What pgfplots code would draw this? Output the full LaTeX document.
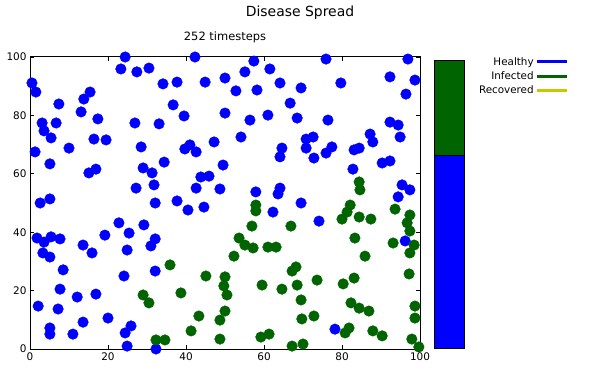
\documentclass[border=0pt]{standalone}
\usepackage{pgfplots}
\pgfplotsset{compat=1.18}
\usepackage{fontspec}
\setmainfont{DejaVu Sans}
\definecolor{hblue}{RGB}{0,0,255}
\definecolor{igreen}{RGB}{0,100,0}
\definecolor{ryellow}{RGB}{200,200,0}
\begin{document}
\begin{tikzpicture}[x=1bp,y=1bp]
\path[use as bounding box] (0,0) rectangle (600,375);
\node[font=\fontsize{14}{16}\selectfont] at (300,362) {Disease Spread};
\node[font=\fontsize{11.5}{13}\selectfont] at (225,338) {252 timesteps};
\begin{axis}[
  at={(30bp,26bp)}, anchor=south west,
  width=390bp, height=292bp, scale only axis,
  xmin=0, xmax=100, ymin=0, ymax=100,
  xtick={0,20,40,60,80,100}, ytick={0,20,40,60,80,100},
  tick align=inside, major tick length=4bp,
  tick style={black, line width=0.8bp},
  axis line style={black, line width=1bp},
  clip=false,
  /pgf/number format/assume math mode=true,
  tick label style={font=\fontsize{10.5}{12}\selectfont},
  legend style={draw=none, fill=none, at={(1.388,1.012)}, anchor=north east,
    font=\fontsize{10.4}{12}\selectfont, row sep=2bp,
    nodes={inner sep=1.5bp}},
  legend plot pos=right, legend cell align=right,
  legend image code/.code={\draw[#1, line width=3bp] (0bp,0bp) -- (30bp,0bp);},
]
\addplot[only marks, mark=*, mark size=5.3bp, color=hblue, forget plot] coordinates {
(0.5,91.1)(1.5,88.0)(24.4,100)(23.3,95.9)(15.4,88.0)(13.8,85.6)(7.4,83.9)(13.1,81.2)
(17.4,78.8)(3.1,77.4)(6.7,77.4)(3.6,74.7)(5.4,72.3)(16.4,71.9)(19.5,71.6)(10.0,68.8)
(1.3,67.5)(27.4,94.9)(30.5,96.2)(34.1,90.8)(37.7,91.4)(44.9,91.4)(50.0,92.8)(36.7,83.6)
(39.5,79.8)(26.9,77.4)(33.1,77.1)(28.5,69.2)(41.0,69.9)(39.7,68.5)(42.6,67.5)(47.2,70.9)
(50.0,80.8)(42.3,100)(57.4,98.6)(75.9,99.3)(61.5,95.9)(55.1,94.9)(64.1,91.1)(69.5,89.4)
(52.8,88.4)(58.2,88.7)(66.7,84.2)(61.0,80.1)(56.4,78.4)(68.5,79.1)(76.4,78.4)(54.1,72.6)
(70.8,71.9)(72.6,72.6)(64.6,68.8)(70.8,68.8)(96.9,99.3)(79.7,91.1)(92.3,93.2)(98.7,92.1)
(96.4,87.3)(92.3,77.7)(94.4,76.7)(94.9,72.6)(87.2,73.6)(87.9,70.9)(77.4,69.2)(83.1,68.2)
(84.4,68.8)(5.1,63.4)(15.1,60.3)(16.9,61.6)(2.6,50.0)(5.1,51.4)(22.8,43.2)(19.2,39.0)
(25.4,39.7)(1.8,38.0)(3.6,36.6)(5.4,38.4)(7.7,37.7)(13.6,35.6)(34.4,64.0)(29.0,62.0)
(31.3,60.3)(49.5,63.0)(43.8,58.9)(45.9,59.2)(27.2,55.1)(31.8,56.2)(42.6,55.1)(48.7,54.8)
(32.1,50.0)(37.7,50.7)(40.5,47.6)(44.6,48.6)(29.2,42.5)(32.1,37.7)(31.0,35.3)(75.9,67.1)
(64.1,65.8)(72.8,65.4)(57.9,53.8)(64.1,55.1)(63.6,53.1)(69.5,50.0)(62.3,46.9)(74.1,43.8)
(90.3,63.7)(92.3,64.4)(82.8,61.6)(95.4,56.2)(97.4,54.5)(94.4,52.1)(96.2,37.0)(15.9,32.9)
(3.3,32.9)(5.1,31.5)(8.5,27.1)(24.9,33.9)(24.1,25.0)(7.7,20.5)(12.1,17.8)(16.9,18.8)
(2.1,14.7)(7.2,13.7)(20.0,10.6)(13.6,9.2)(5.1,7.2)(5.1,5.1)(11.0,5.1)(24.4,5.5)
(24.9,1.0)(32.1,26.7)(25.9,7.9)(32.3,0)(78.2,6.8)
};
\addplot[only marks, mark=*, mark size=5.3bp, color=igreen, forget plot] coordinates {
(57.9,49.3)(57.9,47.3)(56.9,42.1)(66.9,42.1)(53.6,38.0)(55.1,35.6)(57.2,34.6)(61.0,34.9)
(63.1,34.9)(84.4,57.2)(84.6,54.5)(82.1,49.3)(81.3,46.9)(80.0,44.5)(84.4,45.2)(87.4,44.5)
(93.6,47.9)(97.4,45.9)(96.7,43.2)(97.4,40.4)(83.3,38.0)(93.1,36.3)(98.5,35.6)(35.9,28.8)
(45.1,25.0)(50.0,24.7)(29.0,18.5)(30.5,15.8)(38.7,19.2)(49.7,21.6)(50.5,18.5)(43.3,11.3)
(41.3,6.2)(48.7,9.9)(50.0,13.0)(32.3,3.1)(34.6,3.1)(48.7,3.4)(52.3,31.8)(59.5,21.9)
(64.6,20.5)(68.5,21.9)(67.2,26.7)(68.2,28.1)(73.6,23.6)(69.5,16.8)(69.7,10.3)(72.8,11.3)
(59.2,4.1)(61.3,5.1)(67.2,1.0)(70.0,1.7)(97.4,32.9)(85.9,31.8)(97.2,25.7)(80.3,22.3)
(83.1,24.3)(82.3,15.8)(84.4,14.0)(86.9,13.0)(98.7,14.7)(98.7,10.6)(80.8,5.5)(81.8,7.2)
(87.9,6.2)(90.3,4.5)(97.9,3.4)(99.7,0.7)
};
\addlegendimage{hblue}
\addlegendentry{Healthy}
\addlegendimage{igreen}
\addlegendentry{Infected}
\addlegendimage{ryellow}
\addlegendentry{Recovered}
\end{axis}
\begin{axis}[
  at={(434bp,27bp)}, anchor=south west,
  width=30bp, height=288bp, scale only axis,
  xmin=-0.5, xmax=0.5, ymin=0, ymax=205,
  hide axis, ybar stacked, bar width=30bp, clip=false,
]
\addplot[fill=hblue, draw=black, line width=0.6bp] coordinates {(0,137)};
\addplot[fill=igreen, draw=black, line width=0.6bp] coordinates {(0,68)};
\addplot[fill=ryellow, draw=black, line width=0.6bp] coordinates {(0,0)};
\end{axis}
\end{tikzpicture}
\end{document}
